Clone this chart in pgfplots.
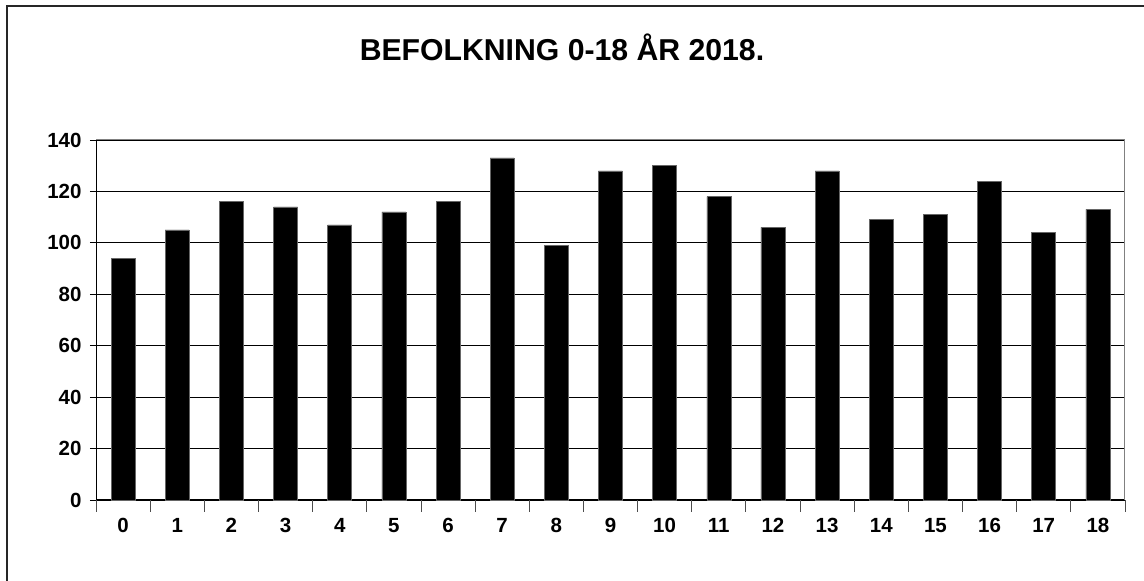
\documentclass[border=0pt]{standalone}
\usepackage{fontspec}
\setmainfont{Liberation Sans}
\usepackage{pgfplots}
\pgfplotsset{compat=1.18}
\newcommand\tl{\fontsize{20.5}{21}\selectfont\bfseries}
\begin{document}
\begin{tikzpicture}[x=1pt,y=1pt]
\useasboundingbox (0,0) rectangle (1144,581);
\draw[line width=1.2pt, black!85] (7,-2) -- (7,575) -- (1146,575);
\node[font=\bfseries\fontsize{30.2}{33}\selectfont, anchor=base] at (562,520) {BEFOLKNING 0-18 ÅR 2018.};
\begin{axis}[
  at={(96pt,81pt)}, anchor=south west,
  scale only axis, width=1029pt, height=360pt,
  xmin=-0.5, xmax=18.5, ymin=0, ymax=140,
  ytick={0,20,...,140},
  yticklabels={\tl 0,\tl 20,\tl 40,\tl 60,\tl 80,\tl 100,\tl 120,\tl 140},
  xtick={0,...,18},
  xticklabels={\tl 0,\tl 1,\tl 2,\tl 3,\tl 4,\tl 5,\tl 6,\tl 7,\tl 8,\tl 9,\tl 10,\tl 11,\tl 12,\tl 13,\tl 14,\tl 15,\tl 16,\tl 17,\tl 18},
  minor xtick={-0.5,0.5,...,18.5},
  axis x line*=bottom, axis y line*=left,
  axis line style={black, line width=1pt},
  x axis line style={-}, y axis line style={-},
  ymajorgrids, grid style={black, line width=0.8pt},
  major tick length=6pt,
  major x tick style={draw=none},
  minor x tick style={draw=black!70, line width=0.8pt},
  ytick style={black, line width=0.8pt},
  ytick align=outside,
  minor tick length=12pt,
  xtick align=center,
  yticklabel style={xshift=-5pt},
  xticklabel style={yshift=-9pt},
  ybar, bar width=24pt,
  clip=false,
]
\addplot[fill=black, draw=black!60, line width=0.6pt] coordinates {
(0,94) (1,105) (2,116) (3,114) (4,107) (5,112) (6,116) (7,133) (8,99) (9,128)
(10,130) (11,118) (12,106) (13,128) (14,109) (15,111) (16,124) (17,104) (18,113)};
\draw[black!50, line width=1pt] (rel axis cs:0,1) -- (rel axis cs:1,1) -- (rel axis cs:1,0);
\end{axis}
\end{tikzpicture}
\end{document}
